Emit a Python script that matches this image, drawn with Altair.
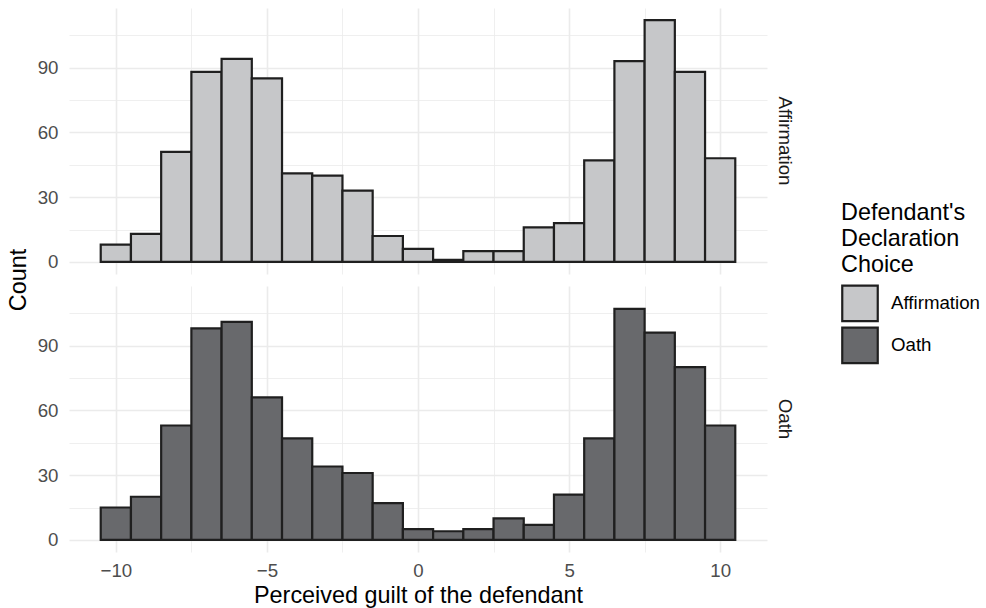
import altair as alt
import pandas as pd

# Bin centres (bin width 1) for perceived guilt
bin_centers = [-10, -9, -8, -7, -6, -5, -4, -3, -2, -1, 0, 1, 2, 3, 4, 5, 6, 7, 8, 9, 10]
affirmation_counts = [8, 13, 51, 88, 94, 85, 41, 40, 33, 12, 6, 1, 5, 5, 16, 18, 47, 93, 112, 88, 48]
oath_counts = [15, 20, 53, 98, 101, 66, 47, 34, 31, 17, 5, 4, 5, 10, 7, 21, 47, 107, 96, 80, 53]
groups = ["Affirmation", "Oath"]
group_colors = ["#C6C7C9", "#68696C"]

rows = []
for g, counts in zip(groups, [affirmation_counts, oath_counts]):
    for c, n in zip(bin_centers, counts):
        rows.append({"center": c, "count": n, "group": g})
df = pd.DataFrame(rows)

FONT = "Liberation Sans"
SMALL = 18.7
BIG = 23.4

x_axis = alt.Axis(
    values=[-10, -7.5, -5, -2.5, 0, 2.5, 5, 7.5, 10],
    labelExpr="datum.value % 5 === 0 ? datum.label : ''",
    gridWidth=alt.condition("datum.value % 5 === 0", alt.value(1.6), alt.value(0.8)),
    gridColor="#EBEBEB",
    tickSize=0,
    domain=False,
    labelPadding=9,
    labelFontSize=SMALL,
    labelColor="#4D4D4D",
    labelFont=FONT,
    titleFont=FONT,
    titleFontSize=BIG,
    titleFontWeight="normal",
    titleColor="#000000",
    titlePadding=5,
)
y_axis = alt.Axis(
    values=[0, 15, 30, 45, 60, 75, 90, 105],
    labelExpr="datum.value % 30 === 0 ? datum.label : ''",
    gridWidth=alt.condition("datum.value % 30 === 0", alt.value(1.6), alt.value(0.8)),
    gridColor="#EBEBEB",
    tickSize=0,
    domain=False,
    labelPadding=11,
    labelFontSize=SMALL,
    labelColor="#4D4D4D",
    labelFont=FONT,
    title=None,
)

chart = (
    alt.Chart(df)
    .transform_calculate(x0="datum.center - 0.5", x1="datum.center + 0.5", zero="0")
    .mark_bar(stroke="#1F1F1F", strokeWidth=2.2, clip=True)
    .encode(
        x=alt.X("x0:Q", title="Perceived guilt of the defendant",
                scale=alt.Scale(domain=[-11.55, 11.55], nice=False, zero=False), axis=x_axis),
        x2="x1:Q",
        y=alt.Y("count:Q",
                scale=alt.Scale(domain=[-5.6, 117.6], nice=False, zero=False), axis=y_axis),
        y2="zero:Q",
        fill=alt.Fill(
            "group:N",
            scale=alt.Scale(domain=groups, range=group_colors),
            legend=alt.Legend(
                title=["Defendant's", "Declaration", "Choice"],
                titleFont=FONT,
                titleFontSize=BIG,
                titleFontWeight="normal",
                titleColor="#000000",
                titleLineHeight=26,
                titlePadding=7,
                labelFont=FONT,
                labelFontSize=SMALL,
                labelColor="#000000",
                labelOffset=12,
                symbolType="square",
                symbolSize=1260,
                symbolStrokeColor="#1F1F1F",
                symbolStrokeWidth=2.2,
                symbolOpacity=1,
                rowPadding=-26,
                orient="none",
                legendX=772,
                legendY=194,
            ),
        ),
        row=alt.Row(
            "group:N",
            sort=groups,
            title="Count",
            header=alt.Header(
                titleOrient="left",
                titleAngle=-90,
                titleFont=FONT,
                titleFontSize=BIG,
                titleFontWeight="normal",
                titleColor="#000000",
                titlePadding=-27,
                labelOrient="right",
                labelAngle=90,
                labelFont=FONT,
                labelFontSize=SMALL,
                labelColor="#1A1A1A",
                labelPadding=8,
            ),
        ),
    )
    .properties(width=698, height=266)
    .configure_facet(spacing=12)
    .configure_view(stroke=None)
    .properties(padding={"left": 6, "top": 8, "right": 5, "bottom": 2})
)

chart.save("out.html", embed_options={"renderer": "svg", "actions": False})
